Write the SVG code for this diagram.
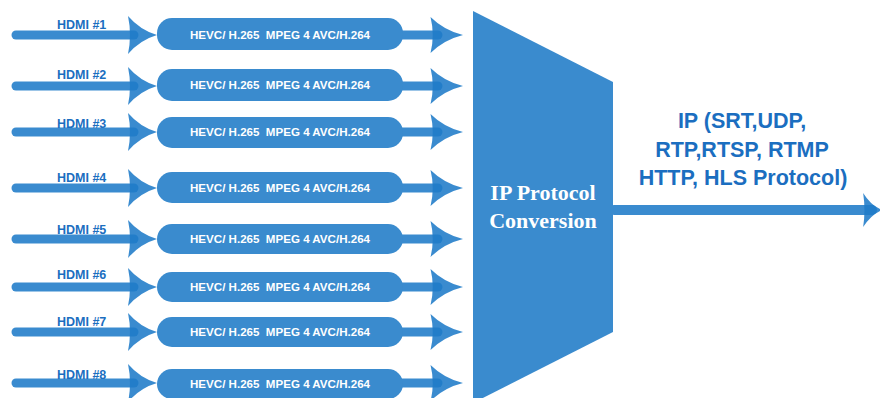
<svg xmlns="http://www.w3.org/2000/svg" width="880" height="398" viewBox="0 0 880 398">
<style>
.ln{stroke:#1f7bc8;stroke-opacity:0.88;stroke-width:9;stroke-linecap:round;fill:none}
.hd{fill:#1f7bc8;fill-opacity:0.88}
.box{fill:#3a8bce}
.bt{font-family:"Liberation Sans",Arial,sans-serif;font-weight:bold;font-size:11.5px;fill:#ffffff;text-anchor:middle;white-space:pre}
.lbl{font-family:"Liberation Sans",Arial,sans-serif;font-weight:bold;font-size:12.5px;fill:#1b6ec0}
.big{font-family:"Liberation Serif","Times New Roman",serif;font-weight:bold;font-size:22px;fill:#ffffff;text-anchor:middle}
.out{font-family:"Liberation Sans",Arial,sans-serif;font-weight:bold;font-size:21.5px;fill:#1b6ec0;text-anchor:middle}
</style>
<defs>
<path id="ah" d="M0,0 Q-17,-5 -29,-19 Q-25,0 -29,19 Q-17,5 0,0 Z"/>
</defs>
<g id="connectors">
<g id="in-lines">
<line class="ln" x1="16" y1="35" x2="134" y2="35"/>
<line class="ln" x1="16" y1="86" x2="134" y2="86"/>
<line class="ln" x1="16" y1="132" x2="134" y2="132"/>
<line class="ln" x1="16" y1="188" x2="134" y2="188"/>
<line class="ln" x1="16" y1="239" x2="134" y2="239"/>
<line class="ln" x1="16" y1="287" x2="134" y2="287"/>
<line class="ln" x1="16" y1="332" x2="134" y2="332"/>
<line class="ln" x1="16" y1="383" x2="134" y2="383"/>
</g>
<g id="in-heads" class="hd">
<use href="#ah" transform="translate(157,35)"/>
<use href="#ah" transform="translate(157,86)"/>
<use href="#ah" transform="translate(157,132)"/>
<use href="#ah" transform="translate(157,188)"/>
<use href="#ah" transform="translate(157,239)"/>
<use href="#ah" transform="translate(157,287)"/>
<use href="#ah" transform="translate(157,332)"/>
<use href="#ah" transform="translate(157,383)"/>
</g>
<g id="out-lines">
<line class="ln" x1="396" y1="35" x2="438" y2="35"/>
<line class="ln" x1="396" y1="86" x2="438" y2="86"/>
<line class="ln" x1="396" y1="132" x2="438" y2="132"/>
<line class="ln" x1="396" y1="188" x2="438" y2="188"/>
<line class="ln" x1="396" y1="239" x2="438" y2="239"/>
<line class="ln" x1="396" y1="287" x2="438" y2="287"/>
<line class="ln" x1="396" y1="332" x2="438" y2="332"/>
<line class="ln" x1="396" y1="383" x2="438" y2="383"/>
</g>
<g id="out-heads" class="hd">
<use href="#ah" transform="translate(463,35) scale(1.12,0.95)"/>
<use href="#ah" transform="translate(463,86) scale(1.12,0.95)"/>
<use href="#ah" transform="translate(463,132) scale(1.12,0.95)"/>
<use href="#ah" transform="translate(463,188) scale(1.12,0.95)"/>
<use href="#ah" transform="translate(463,239) scale(1.12,0.95)"/>
<use href="#ah" transform="translate(463,287) scale(1.12,0.95)"/>
<use href="#ah" transform="translate(463,332) scale(1.12,0.95)"/>
<use href="#ah" transform="translate(463,383) scale(1.12,0.95)"/>
</g>
<g id="main-out">
<line class="ln" x1="614" y1="210" x2="872" y2="210" style="stroke-width:10"/>
<use class="hd" href="#ah" transform="translate(882,210) scale(0.65,0.9)"/>
</g>
</g>
<g id="hdmi-labels">
<text class="lbl" x="57" y="29">HDMI #1</text>
<text class="lbl" x="57" y="79">HDMI #2</text>
<text class="lbl" x="57" y="128">HDMI #3</text>
<text class="lbl" x="57" y="182">HDMI #4</text>
<text class="lbl" x="57" y="234">HDMI #5</text>
<text class="lbl" x="57" y="279">HDMI #6</text>
<text class="lbl" x="57" y="326">HDMI #7</text>
<text class="lbl" x="57" y="379">HDMI #8</text>
</g>
<g id="enc1"><rect class="box" x="157" y="18" width="246" height="32" rx="15"/><text class="bt" x="280" y="39" textLength="180" lengthAdjust="spacingAndGlyphs">HEVC/ H.265  MPEG 4 AVC/H.264</text></g>
<g id="enc2"><rect class="box" x="157" y="69" width="246" height="32" rx="15"/><text class="bt" x="280" y="89" textLength="180" lengthAdjust="spacingAndGlyphs">HEVC/ H.265  MPEG 4 AVC/H.264</text></g>
<g id="enc3"><rect class="box" x="157" y="117" width="246" height="31" rx="15"/><text class="bt" x="280" y="136" textLength="180" lengthAdjust="spacingAndGlyphs">HEVC/ H.265  MPEG 4 AVC/H.264</text></g>
<g id="enc4"><rect class="box" x="157" y="172" width="246" height="31" rx="15"/><text class="bt" x="280" y="192" textLength="180" lengthAdjust="spacingAndGlyphs">HEVC/ H.265  MPEG 4 AVC/H.264</text></g>
<g id="enc5"><rect class="box" x="157" y="224" width="246" height="30" rx="15"/><text class="bt" x="280" y="243" textLength="180" lengthAdjust="spacingAndGlyphs">HEVC/ H.265  MPEG 4 AVC/H.264</text></g>
<g id="enc6"><rect class="box" x="157" y="272" width="246" height="30" rx="15"/><text class="bt" x="280" y="291" textLength="180" lengthAdjust="spacingAndGlyphs">HEVC/ H.265  MPEG 4 AVC/H.264</text></g>
<g id="enc7"><rect class="box" x="157" y="317" width="246" height="30" rx="15"/><text class="bt" x="280" y="336" textLength="180" lengthAdjust="spacingAndGlyphs">HEVC/ H.265  MPEG 4 AVC/H.264</text></g>
<g id="enc8"><rect class="box" x="157" y="369" width="246" height="30" rx="15"/><text class="bt" x="280" y="388" textLength="180" lengthAdjust="spacingAndGlyphs">HEVC/ H.265  MPEG 4 AVC/H.264</text></g>
<g id="ip-conversion">
<polygon fill="#3a8bce" points="473,11 613,82 613,332 473,403"/>
<text class="big" x="543" y="200">IP Protocol</text>
<text class="big" x="543" y="228">Conversion</text>
</g>
<g id="output-label">
<text class="out" x="742" y="128">IP (SRT,UDP,</text>
<text class="out" x="742" y="157">RTP,RTSP, RTMP</text>
<text class="out" x="743" y="185">HTTP, HLS Protocol)</text>
</g>
</svg>
